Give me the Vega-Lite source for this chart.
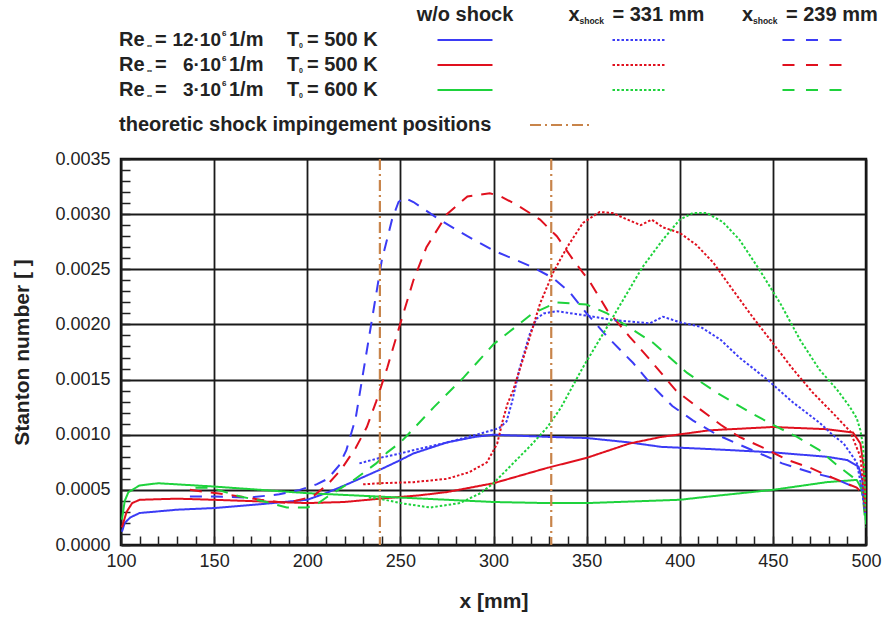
{
  "$schema": "https://vega.github.io/schema/vega-lite/v6.json",
  "background": "white",
  "padding": {"left": 10, "top": 0, "right": 0, "bottom": 0},
  "bounds": "flush",
  "spacing": 29,
  "config": {"font": "Liberation Sans", "view": {"stroke": null}},
  "datasets": {
    "legrows": [
      {"row": "r12", "col": "lab", "num": "12·10", "temp": "= 500 K"},
      {"row": "r6", "col": "lab", "num": "6·10", "temp": "= 500 K"},
      {"row": "r3", "col": "lab", "num": "3·10", "temp": "= 600 K"}
    ],
    "legheadwo": [{"row": "head", "col": "wo", "t": "w/o shock"}],
    "legheads": [
      {"row": "head", "col": "s331", "t": "= 331 mm"},
      {"row": "head", "col": "s239", "t": "= 239 mm"}
    ],
    "legsamples": [
      {"row": "r12", "col": "wo", "re": "12", "c": "wo"},
      {"row": "r6", "col": "wo", "re": "6", "c": "wo"},
      {"row": "r3", "col": "wo", "re": "3", "c": "wo"},
      {"row": "r12", "col": "s331", "re": "12", "c": "331"},
      {"row": "r6", "col": "s331", "re": "6", "c": "331"},
      {"row": "r3", "col": "s331", "re": "3", "c": "331"},
      {"row": "r12", "col": "s239", "re": "12", "c": "239"},
      {"row": "r6", "col": "s239", "re": "6", "c": "239"},
      {"row": "r3", "col": "s239", "re": "3", "c": "239"}
    ],
    "legtheory": [{"row": "theory", "col": "lab", "t": "theoretic shock impingement positions"}],
    "legtheorysample": [{"row": "theory", "col": "mid"}],
    "shocks": [{"xs": 239}, {"xs": 331}],
    "curves": [
      {"x":100.5,"y":0.00012,"re":"12","c":"wo"},{"x":102,"y":0.0002,"re":"12","c":"wo"},{"x":105,"y":0.00025,"re":"12","c":"wo"},{"x":110,"y":0.00029,"re":"12","c":"wo"},{"x":130,"y":0.00032,"re":"12","c":"wo"},{"x":150,"y":0.000335,"re":"12","c":"wo"},{"x":175,"y":0.00037,"re":"12","c":"wo"},{"x":200,"y":0.00041,"re":"12","c":"wo"},{"x":210,"y":0.00047,"re":"12","c":"wo"},{"x":220,"y":0.00054,"re":"12","c":"wo"},{"x":232,"y":0.00063,"re":"12","c":"wo"},{"x":240,"y":0.00069,"re":"12","c":"wo"},{"x":250,"y":0.00077,"re":"12","c":"wo"},{"x":257,"y":0.00083,"re":"12","c":"wo"},{"x":275,"y":0.00093,"re":"12","c":"wo"},{"x":290,"y":0.00098,"re":"12","c":"wo"},{"x":300,"y":0.001,"re":"12","c":"wo"},{"x":330,"y":0.00098,"re":"12","c":"wo"},{"x":350,"y":0.00097,"re":"12","c":"wo"},{"x":373,"y":0.00093,"re":"12","c":"wo"},{"x":390,"y":0.00089,"re":"12","c":"wo"},{"x":416,"y":0.00087,"re":"12","c":"wo"},{"x":450,"y":0.00084,"re":"12","c":"wo"},{"x":479,"y":0.0008,"re":"12","c":"wo"},{"x":490,"y":0.00077,"re":"12","c":"wo"},{"x":496,"y":0.00071,"re":"12","c":"wo"},{"x":498,"y":0.00059,"re":"12","c":"wo"},{"x":499,"y":0.00041,"re":"12","c":"wo"},{"x":500,"y":0.00029,"re":"12","c":"wo"},
      {"x":100.5,"y":0.00016,"re":"6","c":"wo"},{"x":103,"y":0.0003,"re":"6","c":"wo"},{"x":106,"y":0.00038,"re":"6","c":"wo"},{"x":110,"y":0.00041,"re":"6","c":"wo"},{"x":130,"y":0.00042,"re":"6","c":"wo"},{"x":150,"y":0.00041,"re":"6","c":"wo"},{"x":200,"y":0.00038,"re":"6","c":"wo"},{"x":220,"y":0.00039,"re":"6","c":"wo"},{"x":239,"y":0.00042,"re":"6","c":"wo"},{"x":260,"y":0.00045,"re":"6","c":"wo"},{"x":275,"y":0.00048,"re":"6","c":"wo"},{"x":300,"y":0.00056,"re":"6","c":"wo"},{"x":329,"y":0.0007,"re":"6","c":"wo"},{"x":350,"y":0.00079,"re":"6","c":"wo"},{"x":373,"y":0.00092,"re":"6","c":"wo"},{"x":390,"y":0.00098,"re":"6","c":"wo"},{"x":416,"y":0.00104,"re":"6","c":"wo"},{"x":450,"y":0.00107,"re":"6","c":"wo"},{"x":479,"y":0.00105,"re":"6","c":"wo"},{"x":493,"y":0.00102,"re":"6","c":"wo"},{"x":497,"y":0.00092,"re":"6","c":"wo"},{"x":498.5,"y":0.00074,"re":"6","c":"wo"},{"x":499.5,"y":0.0005,"re":"6","c":"wo"},{"x":500,"y":0.00029,"re":"6","c":"wo"},
      {"x":100.5,"y":0.00023,"re":"3","c":"wo"},{"x":102,"y":0.0004,"re":"3","c":"wo"},{"x":104,"y":0.00048,"re":"3","c":"wo"},{"x":110,"y":0.00054,"re":"3","c":"wo"},{"x":120,"y":0.00056,"re":"3","c":"wo"},{"x":150,"y":0.00053,"re":"3","c":"wo"},{"x":200,"y":0.00047,"re":"3","c":"wo"},{"x":250,"y":0.00043,"re":"3","c":"wo"},{"x":275,"y":0.00041,"re":"3","c":"wo"},{"x":300,"y":0.00039,"re":"3","c":"wo"},{"x":329,"y":0.00038,"re":"3","c":"wo"},{"x":350,"y":0.00038,"re":"3","c":"wo"},{"x":400,"y":0.00041,"re":"3","c":"wo"},{"x":416,"y":0.00044,"re":"3","c":"wo"},{"x":450,"y":0.0005,"re":"3","c":"wo"},{"x":479,"y":0.00057,"re":"3","c":"wo"},{"x":495,"y":0.00059,"re":"3","c":"wo"},{"x":498,"y":0.0005,"re":"3","c":"wo"},{"x":499.5,"y":0.00029,"re":"3","c":"wo"},{"x":500,"y":0.0002,"re":"3","c":"wo"},
      {"x":137,"y":0.00044,"re":"12","c":"239"},{"x":150,"y":0.00044,"re":"12","c":"239"},{"x":169,"y":0.00043,"re":"12","c":"239"},{"x":185,"y":0.00046,"re":"12","c":"239"},{"x":196,"y":0.0005,"re":"12","c":"239"},{"x":205,"y":0.00055,"re":"12","c":"239"},{"x":211,"y":0.0006,"re":"12","c":"239"},{"x":217,"y":0.00072,"re":"12","c":"239"},{"x":221,"y":0.00086,"re":"12","c":"239"},{"x":226,"y":0.00115,"re":"12","c":"239"},{"x":230,"y":0.00156,"re":"12","c":"239"},{"x":235,"y":0.00207,"re":"12","c":"239"},{"x":240,"y":0.00258,"re":"12","c":"239"},{"x":245.5,"y":0.00295,"re":"12","c":"239"},{"x":249,"y":0.00311,"re":"12","c":"239"},{"x":252,"y":0.00315,"re":"12","c":"239"},{"x":257,"y":0.00311,"re":"12","c":"239"},{"x":271,"y":0.00295,"re":"12","c":"239"},{"x":286,"y":0.0028,"re":"12","c":"239"},{"x":300,"y":0.00267,"re":"12","c":"239"},{"x":321,"y":0.00252,"re":"12","c":"239"},{"x":332,"y":0.00242,"re":"12","c":"239"},{"x":341,"y":0.00229,"re":"12","c":"239"},{"x":350,"y":0.0021,"re":"12","c":"239"},{"x":361,"y":0.00189,"re":"12","c":"239"},{"x":375,"y":0.00165,"re":"12","c":"239"},{"x":386,"y":0.00143,"re":"12","c":"239"},{"x":396,"y":0.00126,"re":"12","c":"239"},{"x":407,"y":0.00113,"re":"12","c":"239"},{"x":420,"y":0.001,"re":"12","c":"239"},{"x":432,"y":0.00091,"re":"12","c":"239"},{"x":443,"y":0.00083,"re":"12","c":"239"},{"x":455,"y":0.00074,"re":"12","c":"239"},{"x":470,"y":0.00066,"re":"12","c":"239"},{"x":482,"y":0.00061,"re":"12","c":"239"},{"x":493,"y":0.00053,"re":"12","c":"239"},{"x":498,"y":0.00052,"re":"12","c":"239"},{"x":499.5,"y":0.00034,"re":"12","c":"239"},
      {"x":137,"y":0.0005,"re":"6","c":"239"},{"x":160,"y":0.00045,"re":"6","c":"239"},{"x":175,"y":0.00041,"re":"6","c":"239"},{"x":189,"y":0.00038,"re":"6","c":"239"},{"x":203,"y":0.00044,"re":"6","c":"239"},{"x":211,"y":0.00055,"re":"6","c":"239"},{"x":218,"y":0.00068,"re":"6","c":"239"},{"x":226,"y":0.00088,"re":"6","c":"239"},{"x":232,"y":0.00107,"re":"6","c":"239"},{"x":237,"y":0.0013,"re":"6","c":"239"},{"x":243,"y":0.00161,"re":"6","c":"239"},{"x":250,"y":0.00201,"re":"6","c":"239"},{"x":257,"y":0.0024,"re":"6","c":"239"},{"x":264,"y":0.0027,"re":"6","c":"239"},{"x":275,"y":0.003,"re":"6","c":"239"},{"x":286,"y":0.00316,"re":"6","c":"239"},{"x":298,"y":0.00319,"re":"6","c":"239"},{"x":304,"y":0.00316,"re":"6","c":"239"},{"x":313,"y":0.00308,"re":"6","c":"239"},{"x":325,"y":0.00295,"re":"6","c":"239"},{"x":334,"y":0.0028,"re":"6","c":"239"},{"x":343,"y":0.00258,"re":"6","c":"239"},{"x":352,"y":0.00238,"re":"6","c":"239"},{"x":361,"y":0.00213,"re":"6","c":"239"},{"x":373,"y":0.00189,"re":"6","c":"239"},{"x":384,"y":0.00168,"re":"6","c":"239"},{"x":398,"y":0.0014,"re":"6","c":"239"},{"x":411,"y":0.00123,"re":"6","c":"239"},{"x":422,"y":0.00109,"re":"6","c":"239"},{"x":432,"y":0.00098,"re":"6","c":"239"},{"x":445,"y":0.00088,"re":"6","c":"239"},{"x":458,"y":0.00077,"re":"6","c":"239"},{"x":470,"y":0.0007,"re":"6","c":"239"},{"x":482,"y":0.00061,"re":"6","c":"239"},{"x":495,"y":0.00052,"re":"6","c":"239"},{"x":498,"y":0.00047,"re":"6","c":"239"},{"x":500,"y":0.00035,"re":"6","c":"239"},
      {"x":140,"y":0.00052,"re":"3","c":"239"},{"x":148,"y":0.00052,"re":"3","c":"239"},{"x":164,"y":0.00044,"re":"3","c":"239"},{"x":178,"y":0.00039,"re":"3","c":"239"},{"x":189,"y":0.00034,"re":"3","c":"239"},{"x":200,"y":0.00034,"re":"3","c":"239"},{"x":206,"y":0.00038,"re":"3","c":"239"},{"x":211,"y":0.00044,"re":"3","c":"239"},{"x":225,"y":0.00059,"re":"3","c":"239"},{"x":237,"y":0.00074,"re":"3","c":"239"},{"x":243,"y":0.00084,"re":"3","c":"239"},{"x":250,"y":0.00093,"re":"3","c":"239"},{"x":254,"y":0.001,"re":"3","c":"239"},{"x":268,"y":0.00125,"re":"3","c":"239"},{"x":284,"y":0.00152,"re":"3","c":"239"},{"x":300,"y":0.00182,"re":"3","c":"239"},{"x":321,"y":0.0021,"re":"3","c":"239"},{"x":334,"y":0.0022,"re":"3","c":"239"},{"x":350,"y":0.00218,"re":"3","c":"239"},{"x":361,"y":0.0021,"re":"3","c":"239"},{"x":375,"y":0.00195,"re":"3","c":"239"},{"x":386,"y":0.00183,"re":"3","c":"239"},{"x":404,"y":0.00156,"re":"3","c":"239"},{"x":420,"y":0.00138,"re":"3","c":"239"},{"x":438,"y":0.0012,"re":"3","c":"239"},{"x":450,"y":0.00109,"re":"3","c":"239"},{"x":463,"y":0.00098,"re":"3","c":"239"},{"x":475,"y":0.00086,"re":"3","c":"239"},{"x":484,"y":0.00073,"re":"3","c":"239"},{"x":492.5,"y":0.00062,"re":"3","c":"239"},{"x":497,"y":0.00056,"re":"3","c":"239"},{"x":498.5,"y":0.00041,"re":"3","c":"239"},{"x":499.5,"y":0.00023,"re":"3","c":"239"},
      {"x":228,"y":0.00074,"re":"12","c":"331"},{"x":239,"y":0.00079,"re":"12","c":"331"},{"x":250,"y":0.00083,"re":"12","c":"331"},{"x":257,"y":0.00086,"re":"12","c":"331"},{"x":275,"y":0.00093,"re":"12","c":"331"},{"x":293,"y":0.00101,"re":"12","c":"331"},{"x":303,"y":0.00106,"re":"12","c":"331"},{"x":307,"y":0.00112,"re":"12","c":"331"},{"x":310,"y":0.0013,"re":"12","c":"331"},{"x":314,"y":0.0016,"re":"12","c":"331"},{"x":319.6,"y":0.00192,"re":"12","c":"331"},{"x":323,"y":0.00205,"re":"12","c":"331"},{"x":327,"y":0.0021,"re":"12","c":"331"},{"x":334,"y":0.00212,"re":"12","c":"331"},{"x":350,"y":0.00208,"re":"12","c":"331"},{"x":364,"y":0.00204,"re":"12","c":"331"},{"x":384,"y":0.00201,"re":"12","c":"331"},{"x":391,"y":0.00207,"re":"12","c":"331"},{"x":400,"y":0.00202,"re":"12","c":"331"},{"x":411,"y":0.00198,"re":"12","c":"331"},{"x":422,"y":0.00186,"re":"12","c":"331"},{"x":432,"y":0.0017,"re":"12","c":"331"},{"x":447,"y":0.0015,"re":"12","c":"331"},{"x":461,"y":0.00129,"re":"12","c":"331"},{"x":475,"y":0.00111,"re":"12","c":"331"},{"x":482,"y":0.001,"re":"12","c":"331"},{"x":488,"y":0.00092,"re":"12","c":"331"},{"x":495,"y":0.00075,"re":"12","c":"331"},{"x":497.5,"y":0.00053,"re":"12","c":"331"},{"x":499.5,"y":0.00029,"re":"12","c":"331"},
      {"x":230,"y":0.00055,"re":"6","c":"331"},{"x":239,"y":0.00056,"re":"6","c":"331"},{"x":257,"y":0.00057,"re":"6","c":"331"},{"x":275,"y":0.0006,"re":"6","c":"331"},{"x":287,"y":0.00066,"re":"6","c":"331"},{"x":296.5,"y":0.00075,"re":"6","c":"331"},{"x":302,"y":0.00092,"re":"6","c":"331"},{"x":305,"y":0.00113,"re":"6","c":"331"},{"x":307.5,"y":0.00128,"re":"6","c":"331"},{"x":310.5,"y":0.0014,"re":"6","c":"331"},{"x":318,"y":0.0018,"re":"6","c":"331"},{"x":325,"y":0.00219,"re":"6","c":"331"},{"x":332,"y":0.00247,"re":"6","c":"331"},{"x":339.5,"y":0.0027,"re":"6","c":"331"},{"x":348,"y":0.00292,"re":"6","c":"331"},{"x":357,"y":0.00302,"re":"6","c":"331"},{"x":364,"y":0.00301,"re":"6","c":"331"},{"x":372,"y":0.00295,"re":"6","c":"331"},{"x":379,"y":0.0029,"re":"6","c":"331"},{"x":385,"y":0.00295,"re":"6","c":"331"},{"x":391,"y":0.00288,"re":"6","c":"331"},{"x":400,"y":0.00283,"re":"6","c":"331"},{"x":409,"y":0.00272,"re":"6","c":"331"},{"x":418,"y":0.00256,"re":"6","c":"331"},{"x":428.6,"y":0.00231,"re":"6","c":"331"},{"x":439,"y":0.00207,"re":"6","c":"331"},{"x":450,"y":0.00183,"re":"6","c":"331"},{"x":461,"y":0.00159,"re":"6","c":"331"},{"x":471.5,"y":0.00138,"re":"6","c":"331"},{"x":482,"y":0.0012,"re":"6","c":"331"},{"x":491.5,"y":0.00103,"re":"6","c":"331"},{"x":497,"y":0.0008,"re":"6","c":"331"},{"x":498.5,"y":0.00053,"re":"6","c":"331"},{"x":499.5,"y":0.00029,"re":"6","c":"331"},
      {"x":233,"y":0.00043,"re":"3","c":"331"},{"x":239,"y":0.00042,"re":"3","c":"331"},{"x":250,"y":0.00038,"re":"3","c":"331"},{"x":266,"y":0.00034,"re":"3","c":"331"},{"x":282,"y":0.00038,"re":"3","c":"331"},{"x":293,"y":0.00047,"re":"3","c":"331"},{"x":300,"y":0.00056,"re":"3","c":"331"},{"x":310.5,"y":0.00074,"re":"3","c":"331"},{"x":321,"y":0.00092,"re":"3","c":"331"},{"x":329,"y":0.00107,"re":"3","c":"331"},{"x":336,"y":0.00124,"re":"3","c":"331"},{"x":348,"y":0.00161,"re":"3","c":"331"},{"x":359,"y":0.00192,"re":"3","c":"331"},{"x":369.5,"y":0.00222,"re":"3","c":"331"},{"x":380,"y":0.00252,"re":"3","c":"331"},{"x":391,"y":0.00277,"re":"3","c":"331"},{"x":400,"y":0.00295,"re":"3","c":"331"},{"x":407,"y":0.00301,"re":"3","c":"331"},{"x":414.6,"y":0.00301,"re":"3","c":"331"},{"x":423,"y":0.00293,"re":"3","c":"331"},{"x":432,"y":0.00277,"re":"3","c":"331"},{"x":443,"y":0.00249,"re":"3","c":"331"},{"x":454,"y":0.00219,"re":"3","c":"331"},{"x":464.6,"y":0.00186,"re":"3","c":"331"},{"x":475,"y":0.00159,"re":"3","c":"331"},{"x":484.4,"y":0.00141,"re":"3","c":"331"},{"x":491.4,"y":0.00125,"re":"3","c":"331"},{"x":495,"y":0.00115,"re":"3","c":"331"},{"x":497,"y":0.00104,"re":"3","c":"331"},{"x":498.5,"y":0.00089,"re":"3","c":"331"},{"x":499.2,"y":0.00059,"re":"3","c":"331"},{"x":499.8,"y":0.00029,"re":"3","c":"331"},{"x":500,"y":0.00016,"re":"3","c":"331"}
    ]
  },
  "vconcat": [
    {
      "width": 745,
      "height": 130,
      "encoding": {
        "x": {"field": "col", "type": "nominal", "axis": null,
              "scale": {"type": "point", "domain": ["lab","g1","g2","g3","wo","mid","s331","g4","s239"], "range": [-3, 742], "padding": 0.294, "align": 0}},
        "y": {"field": "row", "type": "nominal", "axis": null,
              "scale": {"type": "point", "domain": ["head","r12","r6","r3","theory"], "padding": 0.6}}
      },
      "layer": [
        {"data": {"name": "legheadwo"}, "mark": {"type": "text", "align": "center", "baseline": "middle", "fontSize": 20, "fontWeight": "bold", "color": "#222"}, "encoding": {"text": {"field": "t"}}},
        {"data": {"name": "legheads"}, "mark": {"type": "text", "align": "left", "baseline": "middle", "fontSize": 20, "fontWeight": "bold", "color": "#222", "dx": -70, "text": "x"}},
        {"data": {"name": "legheads"}, "mark": {"type": "text", "align": "left", "baseline": "middle", "fontSize": 8.5, "fontWeight": "bold", "color": "#222", "dx": -59, "dy": 6, "text": "shock"}},
        {"data": {"name": "legheads"}, "mark": {"type": "text", "align": "left", "baseline": "middle", "fontSize": 20, "fontWeight": "bold", "color": "#222", "dx": -26}, "encoding": {"text": {"field": "t"}}},
        {"data": {"name": "legrows"}, "mark": {"type": "text", "align": "left", "baseline": "middle", "fontSize": 20, "fontWeight": "bold", "color": "#222", "dx": 1, "text": "Re"}},
        {"data": {"name": "legrows"}, "mark": {"type": "text", "align": "left", "baseline": "middle", "fontSize": 7, "fontWeight": "bold", "color": "#222", "dx": 29, "dy": 6, "text": "∞"}},
        {"data": {"name": "legrows"}, "mark": {"type": "text", "align": "left", "baseline": "middle", "fontSize": 20, "fontWeight": "bold", "color": "#222", "dx": 37, "text": "="}},
        {"data": {"name": "legrows"}, "mark": {"type": "text", "align": "right", "baseline": "middle", "fontSize": 19, "fontWeight": "bold", "color": "#222", "dx": 103}, "encoding": {"text": {"field": "num"}}},
        {"data": {"name": "legrows"}, "mark": {"type": "text", "align": "left", "baseline": "middle", "fontSize": 8, "fontWeight": "bold", "color": "#222", "dx": 104, "dy": -6, "text": "6"}},
        {"data": {"name": "legrows"}, "mark": {"type": "text", "align": "left", "baseline": "middle", "fontSize": 20, "fontWeight": "bold", "color": "#222", "dx": 111, "text": "1/m"}},
        {"data": {"name": "legrows"}, "mark": {"type": "text", "align": "left", "baseline": "middle", "fontSize": 20, "fontWeight": "bold", "color": "#222", "dx": 169, "text": "T"}},
        {"data": {"name": "legrows"}, "mark": {"type": "text", "align": "left", "baseline": "middle", "fontSize": 7, "fontWeight": "bold", "color": "#222", "dx": 181, "dy": 6, "text": "0"}},
        {"data": {"name": "legrows"}, "mark": {"type": "text", "align": "left", "baseline": "middle", "fontSize": 20, "fontWeight": "bold", "color": "#222", "dx": 189}, "encoding": {"text": {"field": "temp"}}},
        {"data": {"name": "legtheory"}, "mark": {"type": "text", "align": "left", "baseline": "middle", "fontSize": 20, "fontWeight": "bold", "color": "#222", "dx": 1, "dy": 10}, "encoding": {"text": {"field": "t"}}},
        {"data": {"name": "legsamples"}, "transform": [{"filter": "datum.c === 'wo'"}],
         "mark": {"type": "point", "shape": "M-1,0L1,0", "size": 3025, "filled": false, "strokeWidth": 2, "opacity": 1},
         "encoding": {"color": {"field": "re", "type": "nominal", "legend": null, "scale": {"domain": ["12","6","3"], "range": ["#3b3bf5","#e0101e","#1ed23c"]}}}},
        {"data": {"name": "legsamples"}, "transform": [{"filter": "datum.c === '331'"}],
         "mark": {"type": "point", "shape": "M-1,0L1,0", "size": 2704, "filled": false, "strokeWidth": 2, "strokeDash": [2.5, 2], "opacity": 1},
         "encoding": {"color": {"field": "re", "type": "nominal", "legend": null, "scale": {"domain": ["12","6","3"], "range": ["#3b3bf5","#e0101e","#1ed23c"]}}}},
        {"data": {"name": "legsamples"}, "transform": [{"filter": "datum.c === '239'"}],
         "mark": {"type": "point", "shape": "M-1,0L1,0", "size": 3481, "filled": false, "strokeWidth": 2.2, "strokeDash": [12, 11.5], "opacity": 1},
         "encoding": {"color": {"field": "re", "type": "nominal", "legend": null, "scale": {"domain": ["12","6","3"], "range": ["#3b3bf5","#e0101e","#1ed23c"]}}}},
        {"data": {"name": "legtheorysample"},
         "mark": {"type": "point", "shape": "M-0.725,0.333L1.275,0.333", "size": 3600, "filled": false, "strokeWidth": 2.2, "strokeDash": [11, 4, 2, 4], "color": "#c8844a", "opacity": 1}}
      ]
    },
    {
      "width": 745,
      "height": 386,
      "view": {"stroke": "#111", "strokeWidth": 2.5},
      "layer": [
        {
          "data": {"name": "curves"},
          "mark": {"type": "line", "strokeWidth": 2, "clip": true},
          "encoding": {
            "x": {"field": "x", "type": "quantitative",
                  "scale": {"domain": [100, 500], "nice": false, "zero": false},
                  "axis": {"title": "x [mm]",
                           "values": [100,110,120,130,140,150,160,170,180,190,200,210,220,230,240,250,260,270,280,290,300,310,320,330,340,350,360,370,380,390,400,410,420,430,440,450,460,470,480,490,500],
                           "tickCount": 100,
                           "labelExpr": "datum.value % 50 === 0 ? datum.label : ''",
                           "labelFlush": false, "labelOverlap": false,
                           "labelFont": "Liberation Sans", "labelFontSize": 18, "labelColor": "#222", "labelPadding": 16,
                           "tickSize": -9, "tickColor": "#222", "tickWidth": 1.5, "domain": false,
                           "grid": true, "gridColor": "#1a1a1a", "gridWidth": 1.8,
                           "gridOpacity": {"condition": {"test": "datum.value % 50 !== 0", "value": 0}, "value": 1},
                           "titleFont": "Liberation Sans", "titleFontSize": 21, "titleFontWeight": "bold", "titleColor": "#222", "titlePadding": 20}},
            "y": {"field": "y", "type": "quantitative",
                  "scale": {"domain": [0, 0.0035], "nice": false},
                  "axis": {"title": "Stanton number [ ]",
                           "values": [0,0.0001,0.0002,0.0003,0.0004,0.0005,0.0006,0.0007,0.0008,0.0009,0.001,0.0011,0.0012,0.0013,0.0014,0.0015,0.0016,0.0017,0.0018,0.0019,0.002,0.0021,0.0022,0.0023,0.0024,0.0025,0.0026,0.0027,0.0028,0.0029,0.003,0.0031,0.0032,0.0033,0.0034,0.0035],
                           "tickCount": 100,
                           "labelExpr": "round(datum.value*10000) % 5 === 0 ? format(datum.value, '.4f') : ''",
                           "labelFlush": false, "labelOverlap": false,
                           "labelFont": "Liberation Sans", "labelFontSize": 18, "labelColor": "#222", "labelPadding": 20,
                           "tickSize": -9, "tickColor": "#222", "tickWidth": 1.5, "domain": false,
                           "grid": true, "gridColor": "#1a1a1a", "gridWidth": 1.8,
                           "gridOpacity": {"condition": {"test": "round(datum.value*10000) % 5 !== 0", "value": 0}, "value": 1},
                           "titleFont": "Liberation Sans", "titleFontSize": 21, "titleFontWeight": "bold", "titleColor": "#222", "titlePadding": 22}},
            "color": {"field": "re", "type": "nominal", "legend": null,
                      "scale": {"domain": ["12","6","3"], "range": ["#3b3bf5","#e0101e","#1ed23c"]}},
            "strokeDash": {"field": "c", "type": "nominal", "legend": null,
                           "scale": {"domain": ["wo","331","239"], "range": [[1,0],[2.5,2],[12,9]]}}
          }
        },
        {
          "data": {"name": "shocks"},
          "mark": {"type": "rule", "color": "#c8844a", "strokeWidth": 2.2, "strokeDash": [11, 4, 2, 4]},
          "encoding": {"x": {"field": "xs", "type": "quantitative"}}
        }
      ]
    }
  ]
}
